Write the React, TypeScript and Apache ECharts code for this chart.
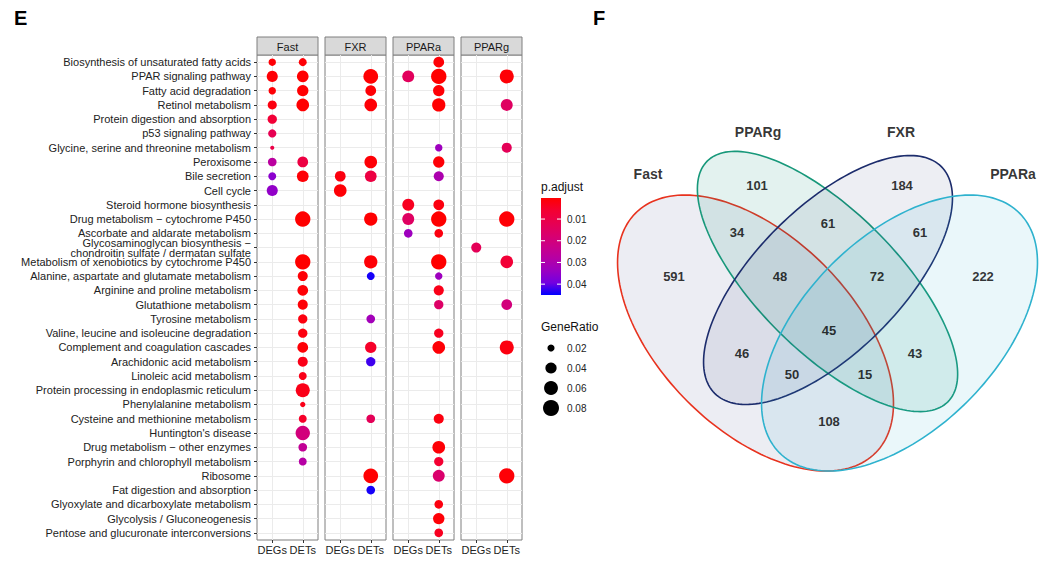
import React, { useEffect, useRef } from "react";
import * as echarts from "echarts";

const FONT = '"Liberation Sans", Arial, Helvetica, sans-serif';

// ---------- Panel E data ----------
const pathways = [
  "Biosynthesis of unsaturated fatty acids",
  "PPAR signaling pathway",
  "Fatty acid degradation",
  "Retinol metabolism",
  "Protein digestion and absorption",
  "p53 signaling pathway",
  "Glycine, serine and threonine metabolism",
  "Peroxisome",
  "Bile secretion",
  "Cell cycle",
  "Steroid hormone biosynthesis",
  "Drug metabolism \u2212 cytochrome P450",
  "Ascorbate and aldarate metabolism",
  "Glycosaminoglycan biosynthesis \u2212 chondroitin sulfate / dermatan sulfate",
  "Metabolism of xenobiotics by cytochrome P450",
  "Alanine, aspartate and glutamate metabolism",
  "Arginine and proline metabolism",
  "Glutathione metabolism",
  "Tyrosine metabolism",
  "Valine, leucine and isoleucine degradation",
  "Complement and coagulation cascades",
  "Arachidonic acid metabolism",
  "Linoleic acid metabolism",
  "Protein processing in endoplasmic reticulum",
  "Phenylalanine metabolism",
  "Cysteine and methionine metabolism",
  "Huntington's disease",
  "Drug metabolism \u2212 other enzymes",
  "Porphyrin and chlorophyll metabolism",
  "Ribosome",
  "Fat digestion and absorption",
  "Glyoxylate and dicarboxylate metabolism",
  "Glycolysis / Gluconeogenesis",
  "Pentose and glucuronate interconversions",
];
const P = pathways;

const groups = ["DEGs", "DETs"];
const panels = ["Fast", "FXR", "PPARa", "PPARg"];

// [pathway, GeneRatio, p.adjust]
const fastDEGs: [string, number, number][] = [
  [P[0], 0.021, 0.001], [P[1], 0.039, 0.001], [P[2], 0.021, 0.001], [P[3], 0.028, 0.002],
  [P[4], 0.029, 0.007], [P[5], 0.024, 0.012], [P[6], 0.013, 0.010], [P[7], 0.026, 0.027],
  [P[8], 0.023, 0.036], [P[9], 0.039, 0.035],
];
const fastDETs: [string, number, number][] = [
  [P[0], 0.023, 0.001], [P[1], 0.043, 0.0005], [P[2], 0.041, 0.0005], [P[3], 0.050, 0.0005],
  [P[7], 0.037, 0.009], [P[8], 0.043, 0.001], [P[11], 0.073, 0.0003], [P[14], 0.073, 0.0003],
  [P[15], 0.033, 0.001], [P[16], 0.037, 0.001], [P[17], 0.033, 0.001], [P[18], 0.029, 0.002],
  [P[19], 0.029, 0.002], [P[20], 0.037, 0.001], [P[21], 0.033, 0.003], [P[22], 0.023, 0.003],
  [P[23], 0.061, 0.003], [P[24], 0.015, 0.003], [P[25], 0.023, 0.005], [P[26], 0.064, 0.020],
  [P[27], 0.026, 0.025], [P[28], 0.023, 0.028],
];
const fxrDEGs: [string, number, number][] = [
  [P[8], 0.037, 0.002], [P[9], 0.050, 0.001],
];
const fxrDETs: [string, number, number][] = [
  [P[1], 0.067, 0.0005], [P[2], 0.037, 0.001], [P[3], 0.050, 0.001], [P[7], 0.050, 0.001],
  [P[8], 0.043, 0.009], [P[11], 0.055, 0.0005], [P[14], 0.055, 0.001], [P[15], 0.023, 0.044],
  [P[18], 0.026, 0.032], [P[20], 0.041, 0.005], [P[21], 0.029, 0.042], [P[25], 0.026, 0.013],
  [P[29], 0.067, 0.0005], [P[30], 0.026, 0.044],
];
const pparaDEGs: [string, number, number][] = [
  [P[1], 0.045, 0.014], [P[10], 0.045, 0.004], [P[11], 0.045, 0.015], [P[12], 0.026, 0.033],
];
const pparaDETs: [string, number, number][] = [
  [P[0], 0.037, 0.001], [P[1], 0.073, 0.0003], [P[2], 0.041, 0.001], [P[3], 0.055, 0.0005],
  [P[6], 0.021, 0.033], [P[7], 0.041, 0.001], [P[8], 0.033, 0.030], [P[10], 0.037, 0.002],
  [P[11], 0.073, 0.0003], [P[12], 0.026, 0.002], [P[14], 0.073, 0.0003], [P[15], 0.021, 0.033],
  [P[16], 0.033, 0.003], [P[17], 0.029, 0.016], [P[19], 0.029, 0.004], [P[20], 0.050, 0.001],
  [P[25], 0.033, 0.002], [P[27], 0.050, 0.001], [P[28], 0.029, 0.006], [P[29], 0.045, 0.017],
  [P[31], 0.026, 0.002], [P[32], 0.041, 0.001], [P[33], 0.026, 0.004],
];
const ppargDEGs: [string, number, number][] = [
  [P[13], 0.033, 0.013],
];
const ppargDETs: [string, number, number][] = [
  [P[1], 0.061, 0.001], [P[3], 0.045, 0.015], [P[6], 0.033, 0.013], [P[11], 0.073, 0.001],
  [P[14], 0.050, 0.007], [P[17], 0.037, 0.020], [P[20], 0.061, 0.002], [P[29], 0.073, 0.001],
];
const panelData = [
  [fastDEGs, fastDETs],
  [fxrDEGs, fxrDETs],
  [pparaDEGs, pparaDETs],
  [ppargDEGs, ppargDETs],
];

const padjRange = [0.0003, 0.045];
const padjBreaks = [0.01, 0.02, 0.03, 0.04];
const ratioBreaks = [0.02, 0.04, 0.06, 0.08];
const colorStops = ["#FF0000", "#F40031", "#E8004F", "#DA006C", "#CA0089", "#B500A5", "#9A00C2", "#7300E0", "#0000FF"];

// ---------- Panel F data ----------
const vennSets = ["Fast", "PPARg", "FXR", "PPARa"];
const vennStroke = ["#E8321E", "#17987A", "#1C2C6C", "#2EB2CE"];
const vennFill = ["rgba(70,80,140,0.10)", "rgba(23,152,122,0.12)", "rgba(28,44,108,0.08)", "rgba(46,178,206,0.10)"];
// region counts
const vennRegions = [
  "Fast", "PPARg", "FXR", "PPARa",
  "Fast&PPARg", "PPARg&FXR", "FXR&PPARa", "Fast&PPARg&FXR", "PPARg&FXR&PPARa",
  "Fast&PPARg&FXR&PPARa", "Fast&FXR", "PPARg&PPARa", "Fast&FXR&PPARa", "Fast&PPARg&PPARa", "Fast&PPARa",
];
const vennCounts = [591, 101, 184, 222, 34, 61, 61, 48, 72, 45, 46, 43, 50, 15, 108];

// layout (unit square of the venn area): ellipse [cx, cy, a, b, angleDeg]
const vennEllipses = [
  [0.3456, 0.6067, 0.3769, 0.2144, 45],
  [0.5056, 0.4922, 0.3782, 0.1556, 45],
  [0.5067, 0.4889, 0.3562, 0.1616, -45],
  [0.6656, 0.6067, 0.3769, 0.2144, -45],
];
const vennRegionPos = [
  [0.1644, 0.4822], [0.3489, 0.2778], [0.6711, 0.2778], [0.8511, 0.4822],
  [0.3044, 0.3844], [0.5067, 0.3644], [0.7111, 0.3844], [0.4, 0.4822], [0.6156, 0.4822],
  [0.5089, 0.6], [0.3156, 0.6533], [0.7, 0.6533], [0.4267, 0.6978], [0.5889, 0.6978], [0.5089, 0.8044],
];
const vennSetPos = [[0.1067, 0.2533], [0.3511, 0.16], [0.6689, 0.16], [0.9178, 0.2533]];

function dotSize(r: number) {
  return 2.5 + 52 * Math.sqrt(Math.max(0, r - 0.012));
}

export default function App() {
  const ref = useRef<HTMLDivElement>(null);
  useEffect(() => {
    if (!ref.current) return;
    const chart = echarts.init(ref.current, null, { renderer: "svg" });

    const PL = 257, PW = 61, PG = 68, PT = 55, PH = 485;
    const grids: any[] = panels.map((_, i) => ({
      left: PL + PG * i, top: PT, width: PW, height: PH,
      show: true, borderColor: "#7f7f7f", borderWidth: 1, backgroundColor: "#fff",
    }));
    grids.push({ left: 600, top: 60, width: 450, height: 450, show: false });

    const xAxes: any[] = panels.map((_, i) => ({
      type: "category", gridIndex: i, data: groups, boundaryGap: true,
      axisLine: { show: false },
      axisTick: { show: true, alignWithLabel: true, length: 3, lineStyle: { color: "#333" } },
      axisLabel: { fontSize: 11, color: "#222", margin: 4, interval: 0, fontFamily: FONT },
      splitLine: { show: false },
    }));
    xAxes.push({ type: "value", gridIndex: 4, min: 0, max: 1, show: false });

    const yAxes: any[] = panels.map((_, i) => ({
      type: "category", gridIndex: i, data: pathways, inverse: true, boundaryGap: true,
      axisLine: { show: false },
      axisTick: { show: i === 0, alignWithLabel: true, length: 3, lineStyle: { color: "#333" } },
      axisLabel: {
        show: i === 0, fontSize: 11, color: "#222", margin: 6, interval: 0, lineHeight: 10, fontFamily: FONT,
        formatter: (v: string) => v.replace(" \u2212 chondroitin", " \u2212\nchondroitin"),
      },
      splitLine: { show: false },
    }));
    yAxes.push({ type: "value", gridIndex: 4, min: 0, max: 1, inverse: true, show: false });

    const series: any[] = [];
    // gridline helper series
    panels.forEach((_, i) => {
      series.push({
        type: "scatter", xAxisIndex: i, yAxisIndex: i, silent: true, z: 1,
        data: [[groups[0], pathways[0]]], symbolSize: 0, itemStyle: { opacity: 0 },
        markLine: {
          silent: true, z: 1, symbol: ["none", "none"], label: { show: false },
          lineStyle: { color: "#EBEBEB", width: 1, type: "solid" },
          emphasis: { disabled: true },
          data: [
            ...groups.map((_, g) => ({ xAxis: g })),
            ...pathways.map((_, k) => ({ yAxis: k })),
          ],
        },
      });
    });
    const dotSeriesIdx: number[] = [];
    panels.forEach((name, i) => {
      const data: any[] = [];
      panelData[i].forEach((arr, g) => {
        arr.forEach(([pw, ratio, padj]) => data.push([groups[g], pw, ratio, padj]));
      });
      dotSeriesIdx.push(series.length);
      series.push({
        type: "scatter", name, xAxisIndex: i, yAxisIndex: i, z: 10,
        data, encode: { x: 0, y: 1 },
        itemStyle: { opacity: 1 },
        symbolSize: (v: any) => dotSize(v[2]),
      });
    });
    // Venn ellipses
    series.push({
      type: "custom", xAxisIndex: 4, yAxisIndex: 4, silent: true, clip: false,
      data: vennEllipses,
      renderItem: (params: any, api: any) => {
        const idx = params.dataIndex;
        const cx = api.value(0), cy = api.value(1), a = api.value(2), b = api.value(3);
        const ang = (api.value(4) * Math.PI) / 180;
        const pts: number[][] = [];
        const N = 180;
        for (let k = 0; k < N; k++) {
          const t = (k / N) * Math.PI * 2;
          const lx = a * Math.cos(t), ly = b * Math.sin(t);
          pts.push(api.coord([cx + lx * Math.cos(ang) - ly * Math.sin(ang), cy + lx * Math.sin(ang) + ly * Math.cos(ang)]));
        }
        return {
          type: "polygon", shape: { points: pts },
          style: { fill: vennFill[idx], stroke: vennStroke[idx], lineWidth: 1.6 },
        };
      },
    });
    series.push({
      type: "scatter", xAxisIndex: 4, yAxisIndex: 4, silent: true, z: 5,
      symbolSize: 1, itemStyle: { color: "rgba(0,0,0,0)" },
      data: vennCounts.map((c, i) => ({ name: vennRegions[i], value: [vennRegionPos[i][0], vennRegionPos[i][1], c] })),
      label: {
        show: true, position: "inside", formatter: (p: any) => String(p.value[2]),
        fontSize: 13, fontWeight: "bold", color: "#000", fontFamily: FONT,
      },
    });
    series.push({
      type: "scatter", xAxisIndex: 4, yAxisIndex: 4, silent: true, z: 5,
      symbolSize: 1, itemStyle: { color: "rgba(0,0,0,0)" },
      data: vennSets.map((s, i) => ({ name: s, value: [vennSetPos[i][0], vennSetPos[i][1]] })),
      label: {
        show: true, position: "inside", formatter: (p: any) => p.name,
        fontSize: 14, fontWeight: "bold", color: "#000", fontFamily: FONT,
      },
    });

    // legends (graphic)
    const CB = { x: 541, y: 198, w: 20, h: 97 };
    const pos = (v: number) => CB.y + ((v - padjRange[0]) / (padjRange[1] - padjRange[0])) * CB.h;
    const graphics: any[] = [];
    graphics.push({ type: "text", x: 14, y: 8, style: { text: "E", font: `bold 20px ${FONT}`, fill: "#000" } });
    graphics.push({ type: "text", x: 593, y: 8, style: { text: "F", font: `bold 20px ${FONT}`, fill: "#000" } });
    panels.forEach((name, i) => {
      const x = PL + PG * i;
      graphics.push({ type: "rect", shape: { x, y: 37, width: PW, height: 18 }, style: { fill: "#D9D9D9", stroke: "#7f7f7f", lineWidth: 1 } });
      graphics.push({ type: "text", x: x + PW / 2, y: 46.5, style: { text: name, font: `11px ${FONT}`, fill: "#1a1a1a", textAlign: "center", textVerticalAlign: "middle" } });
    });
    graphics.push({ type: "text", x: 541, y: 187, style: { text: "p.adjust", font: `12px ${FONT}`, fill: "#111", textVerticalAlign: "middle" } });
    graphics.push({
      type: "rect", shape: { x: CB.x, y: CB.y, width: CB.w, height: CB.h },
      style: {
        fill: {
          type: "linear", x: 0, y: 0, x2: 0, y2: 1,
          colorStops: colorStops.map((c, i) => ({ offset: i / (colorStops.length - 1), color: c })),
        },
      },
    });
    padjBreaks.forEach((v) => {
      const y = pos(v);
      graphics.push({ type: "line", shape: { x1: CB.x, y1: y, x2: CB.x + 4, y2: y }, style: { stroke: "#fff", lineWidth: 1 } });
      graphics.push({ type: "line", shape: { x1: CB.x + CB.w - 4, y1: y, x2: CB.x + CB.w, y2: y }, style: { stroke: "#fff", lineWidth: 1 } });
      graphics.push({ type: "text", x: 567, y, style: { text: v.toFixed(2), font: `10px ${FONT}`, fill: "#222", textVerticalAlign: "middle" } });
    });
    graphics.push({ type: "text", x: 541, y: 327, style: { text: "GeneRatio", font: `12px ${FONT}`, fill: "#111", textVerticalAlign: "middle" } });
    ratioBreaks.forEach((v, i) => {
      const y = 348 + i * 20;
      graphics.push({ type: "circle", shape: { cx: 551, cy: y, r: dotSize(v) / 2 }, style: { fill: "#000" } });
      graphics.push({ type: "text", x: 567, y, style: { text: v.toFixed(2), font: `10px ${FONT}`, fill: "#222", textVerticalAlign: "middle" } });
    });

    chart.setOption({
      animation: false,
      textStyle: { fontFamily: FONT },
      grid: grids,
      xAxis: xAxes,
      yAxis: yAxes,
      visualMap: {
        type: "continuous", show: false, seriesIndex: dotSeriesIdx, dimension: 3,
        min: padjRange[0], max: padjRange[1], inRange: { color: colorStops },
      },
      series,
      graphic: graphics,
    });
    return () => chart.dispose();
  }, []);
  return <div ref={ref} style={{ position: "fixed", left: 0, top: 0, width: 1050, height: 561, background: "#fff" }} />;
}
